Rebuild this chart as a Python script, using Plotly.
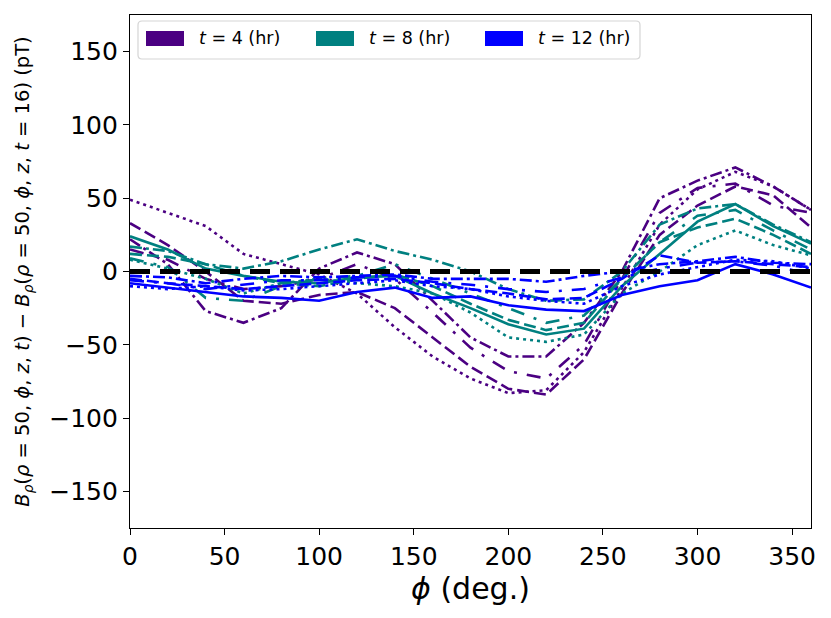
import plotly.graph_objects as go

# phi sample points (deg.)
phi = [0, 20, 40, 60, 80, 100, 120, 140, 160, 180, 200, 220, 240, 260, 280, 300, 320, 340, 360]

# t = 4 (hr), one curve per z
t4_dot = [49, 40, 31, 12, 5, -2, -15, -38, -58, -73, -83, -81, -55, -12, 32, 56, 68, 58, 42]
t4_dash = [33, 18, 0, -20, -22, -16, -14, -25, -45, -65, -80, -84, -60, -15, 25, 45, 58, 52, 30]
t4_dashdot = [22, 5, -27, -35, -25, 2, 13, 5, -20, -45, -58, -58, -35, 0, 50, 62, 71, 58, 42]
t4_loose = [15, 8, -5, -12, -10, -5, 5, -5, -28, -52, -68, -73, -50, -5, 40, 57, 60, 45, 40]

# t = 8 (hr)
t8_solid = [24, 15, 2, -3, -7, -8, -4, -3, -15, -25, -36, -43, -39, -10, 12, 34, 46, 31, 19]
t8_dash = [12, 10, 5, -3, -8, -10, -5, -2, -10, -22, -33, -40, -35, -5, 20, 30, 36, 25, 12]
t8_dashdot = [17, 14, 5, 2, 7, 15, 22, 14, 8, 0, -12, -20, -19, 0, 32, 43, 46, 32, 20]
t8_dot = [8, 2, -5, -15, -8, -5, -8, -10, -15, -28, -45, -48, -43, -15, 0, 18, 28, 18, 11]
t8_loose = [9, 3, -18, -20, -10, -5, -3, 5, -5, -15, -25, -35, -30, -5, 20, 38, 42, 28, 15]

# t = 12 (hr)
t12_solid = [-8, -11, -14, -17, -18, -20, -14, -11, -18, -17, -23, -26, -27, -16, -10, -6, 5, -2, -11]
t12_dashdot = [-3, -4, -8, -5, -3, -4, -3, -2, -5, -5, -5, -7, -3, 0, 5, 7, 10, 6, 5]
t12_dash = [-5, -8, -10, -12, -10, -8, -6, -5, -8, -12, -15, -19, -18, -5, 11, 6, 7, 5, 3]
t12_dot = [-10, -12, -10, -13, -12, -10, -8, -6, -10, -12, -17, -20, -22, -10, -2, 3, 8, 7, 2]
t12_loose = [-6, -8, -12, -9, -6, -6, -4, -3, -7, -9, -12, -14, -12, -4, 2, 6, 7, 4, -2]

zero_x = [0, 360]
zero_y = [0, 0]

legend_keys = ['t4', 't8', 't12']
legend_labels = ['<i>t</i> = 4 (hr)', '<i>t</i> = 8 (hr)', '<i>t</i> = 12 (hr)']

colors = {'t4': '#4B0082', 't8': '#008080', 't12': '#0000FF'}
dashes = {
    'solid': 'solid',
    'dash': '12px,5px',
    'dashdot': '12px,4px,3px,4px',
    'dot': '3px,4px',
    'loose': '14px,10px,3px,10px',
}

curves = [
    ('t4', 'dot', t4_dot), ('t4', 'dash', t4_dash),
    ('t4', 'dashdot', t4_dashdot), ('t4', 'loose', t4_loose),
    ('t8', 'solid', t8_solid), ('t8', 'dash', t8_dash),
    ('t8', 'dashdot', t8_dashdot), ('t8', 'dot', t8_dot), ('t8', 'loose', t8_loose),
    ('t12', 'solid', t12_solid), ('t12', 'dash', t12_dash),
    ('t12', 'dashdot', t12_dashdot), ('t12', 'dot', t12_dot), ('t12', 'loose', t12_loose),
]

fig = go.Figure()
for key, style, vals in curves:
    fig.add_trace(go.Scatter(x=phi, y=vals, mode='lines', showlegend=False,
                             line=dict(color=colors[key], width=2.6, dash=dashes[style])))

# reference line at zero
fig.add_trace(go.Scatter(x=zero_x, y=zero_y, mode='lines', showlegend=False,
                         line=dict(color='black', width=5, dash='20px,10px')))

# legend box drawn like matplotlib's (rounded frame, rectangular patches)
W, H = 681.0, 513.0  # plot area in px
def px(v):
    return v / W
def py(v):
    return v / H

bx0, bx1, by0, by1, r = px(8), px(510), 1 - py(38 + 6), 1 - py(6), 4
fig.add_shape(type='path', xref='paper', yref='paper',
              path=(f"M {bx0 + px(r)},{by1} L {bx1 - px(r)},{by1} Q {bx1},{by1} {bx1},{by1 - py(r)} "
                    f"L {bx1},{by0 + py(r)} Q {bx1},{by0} {bx1 - px(r)},{by0} "
                    f"L {bx0 + px(r)},{by0} Q {bx0},{by0} {bx0},{by0 + py(r)} "
                    f"L {bx0},{by1 - py(r)} Q {bx0},{by1} {bx0 + px(r)},{by1} Z"),
              line=dict(color='#d5d5d5', width=1.2), fillcolor='rgba(255,255,255,0.85)', layer='above')

patch_left = [16, 186, 355]
for i, key in enumerate(legend_keys):
    x0 = patch_left[i]
    fig.add_shape(type='rect', xref='paper', yref='paper',
                  x0=px(x0), x1=px(x0 + 38), y0=1 - py(31), y1=1 - py(16),
                  fillcolor=colors[key], line=dict(width=0), layer='above')
    fig.add_annotation(xref='paper', yref='paper', x=px(x0 + 51), y=1 - py(23.5),
                       xanchor='left', yanchor='middle', showarrow=False,
                       text=legend_labels[i], font=dict(size=17.5))

axis_style = dict(showline=True, linecolor='black', linewidth=1.2, mirror=True,
                  ticks='outside', ticklen=6, tickcolor='black',
                  showgrid=False, zeroline=False, tickfont=dict(size=25))

fig.update_layout(
    width=815, height=602,
    margin=dict(l=122, r=12, t=7, b=82),
    plot_bgcolor='white', paper_bgcolor='white',
    font=dict(family='DejaVu Sans', color='black'),
    showlegend=False,
)
fig.update_xaxes(range=[0, 360], tickvals=[0, 50, 100, 150, 200, 250, 300, 350],
                 title=dict(text='<i>ϕ</i> (deg.)', font=dict(size=30), standoff=4), **axis_style)
fig.update_yaxes(range=[-175, 175], tickvals=[-150, -100, -50, 0, 50, 100, 150],
                 ticktext=['−150', '−100', '−50', '0', '50', '100', '150'],
                 title=dict(text='<i>B</i><sub><i>ρ</i></sub>(<i>ρ</i> = 50, <i>ϕ</i>, <i>z</i>, <i>t</i>)'
                                 ' − <i>B</i><sub><i>ρ</i></sub>(<i>ρ</i> = 50, <i>ϕ</i>, <i>z</i>, <i>t</i> = 16) (pT)',
                            font=dict(size=19.5), standoff=14),
                 **axis_style)

fig.write_html("out.html")
